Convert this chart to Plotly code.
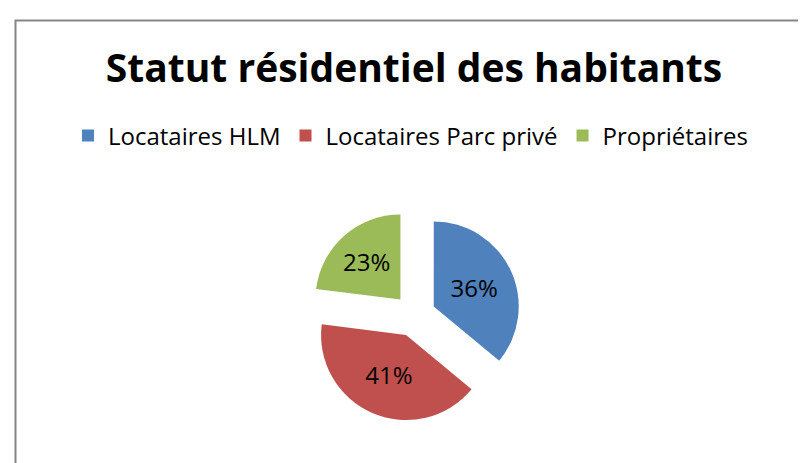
import plotly.graph_objects as go

labels = ["Locataires HLM", "Locataires Parc privé", "Propriétaires"]
values = [36, 41, 23]
colors = ["#4F81BD", "#C0504D", "#9BBB59"]
title_text = "Statut résidentiel des habitants"

W, H = 806, 463
cx, cy = 406.5, 307.5
r = 85.0
pull = 0.25
half = r * (1 + pull)
FONT = "Open Sans, sans-serif"

fig = go.Figure(
    go.Pie(
        labels=labels,
        values=values,
        sort=False,
        direction="clockwise",
        rotation=0,
        pull=[pull] * len(values),
        marker=dict(colors=colors, line=dict(width=0)),
        texttemplate="%{percent:.0%}",
        textposition="inside",
        insidetextorientation="horizontal",
        textfont=dict(family=FONT, size=24, color="#000000"),
        hoverinfo="label+percent",
        domain=dict(
            x=[(cx - half) / W, (cx + half) / W],
            y=[(H - cy - half) / H, (H - cy + half) / H],
        ),
    )
)

fig.update_layout(
    width=W,
    height=H,
    margin=dict(l=0, r=0, t=0, b=0),
    paper_bgcolor="#FFFFFF",
    plot_bgcolor="#FFFFFF",
    title=dict(
        text="<b>" + title_text + "</b>",
        x=406 / W,
        xanchor="center",
        y=1 - 60 / H,
        yanchor="middle",
        font=dict(family=FONT, size=39, color="#000000"),
    ),
    legend=dict(
        orientation="h",
        x=60 / W,
        xanchor="left",
        y=1 - 128 / H,
        yanchor="middle",
        font=dict(family=FONT, size=24, color="#000000"),
        bgcolor="rgba(0,0,0,0)",
    ),
    shapes=[
        dict(
            type="rect",
            xref="paper",
            yref="paper",
            x0=7.5 / W,
            x1=1.05,
            y0=-0.05,
            y1=1 - 12.5 / H,
            line=dict(color="#868686", width=2),
            fillcolor="rgba(0,0,0,0)",
            layer="below",
        )
    ],
)

fig.write_html("out.html")
